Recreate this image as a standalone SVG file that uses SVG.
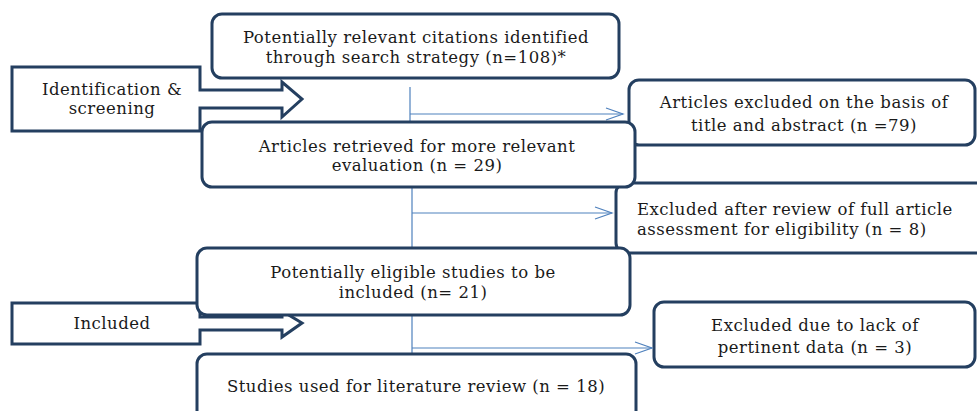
<svg xmlns="http://www.w3.org/2000/svg" width="977" height="411" viewBox="0 0 977 411">
<defs>
<style>
.box{fill:#fff;stroke:#243f60;stroke-width:3}
.t{font-family:"DejaVu Serif","Liberation Serif",serif;font-size:16.5px;letter-spacing:0.5px;fill:#1a1a1a;text-anchor:middle}
.s{text-anchor:start}
.c{fill:none;stroke:#4f81bd;stroke-width:1.2}
</style>
<marker id="ah" markerWidth="20" markerHeight="14" refX="18" refY="7" orient="auto" markerUnits="userSpaceOnUse">
<path d="M1,1 L18,7 L1,13" fill="none" stroke="#4f81bd" stroke-width="1.2"/>
</marker>
</defs>
<rect width="977" height="411" fill="#fff"/>

<g id="ex1">
<rect class="box" x="629" y="80" width="346" height="65" rx="10"/>
<text class="t" x="804" y="108">Articles excluded on the basis of</text>
<text class="t" x="804" y="131">title and abstract (n =79)</text>
</g>
<g id="ex2">
<rect class="box" x="616" y="183" width="380" height="70" rx="10"/>
<text class="t s" x="637" y="215">Excluded after review of full article</text>
<text class="t s" x="637" y="235">assessment for eligibility (n = 8)</text>
</g>
<g id="ex3">
<rect class="box" x="654" y="302" width="321" height="65" rx="10"/>
<text class="t" x="815" y="331">Excluded due to lack of</text>
<text class="t" x="815" y="353">pertinent data (n = 3)</text>
</g>

<g id="identification">
<polygon class="box" points="12,67 200,67 200,90 282,90 282,82 302,99 282,117 282,108 200,108 200,131 12,131"/>
<text class="t" x="112" y="95">Identification &amp;</text>
<text class="t" x="112" y="114">screening</text>
</g>
<g id="included">
<polygon class="box" points="12,303 200,303 200,317 282,317 282,311 302,323 282,337 282,330 200,330 200,344 12,344"/>
<text class="t" x="112" y="329">Included</text>
</g>

<g id="connectors">
<path class="c" d="M410,87 V121 M410,114 H623" marker-end="url(#ah)"/>
<path class="c" d="M412,188 V247 M412,213 H612" marker-end="url(#ah)"/>
<path class="c" d="M412,316 V353 M412,348 H652" marker-end="url(#ah)"/>
</g>

<g id="citations">
<rect class="box" x="212" y="14" width="407" height="64" rx="10"/>
<text class="t" x="416" y="43">Potentially relevant citations identified</text>
<text class="t" x="416" y="63">through search strategy (n=108)*</text>
</g>
<g id="retrieved">
<rect class="box" x="202" y="122" width="433" height="65" rx="10"/>
<text class="t" x="417" y="152">Articles retrieved for more relevant</text>
<text class="t" x="417" y="171">evaluation (n = 29)</text>
</g>
<g id="eligible">
<rect class="box" x="197" y="248" width="433" height="67" rx="10"/>
<text class="t" x="413" y="278">Potentially eligible studies to be</text>
<text class="t" x="413" y="298">included (n= 21)</text>
</g>
<g id="studies">
<rect class="box" x="197" y="354" width="439" height="70" rx="10"/>
<text class="t" x="416" y="392">Studies used for literature review (n = 18)</text>
</g>
</svg>
